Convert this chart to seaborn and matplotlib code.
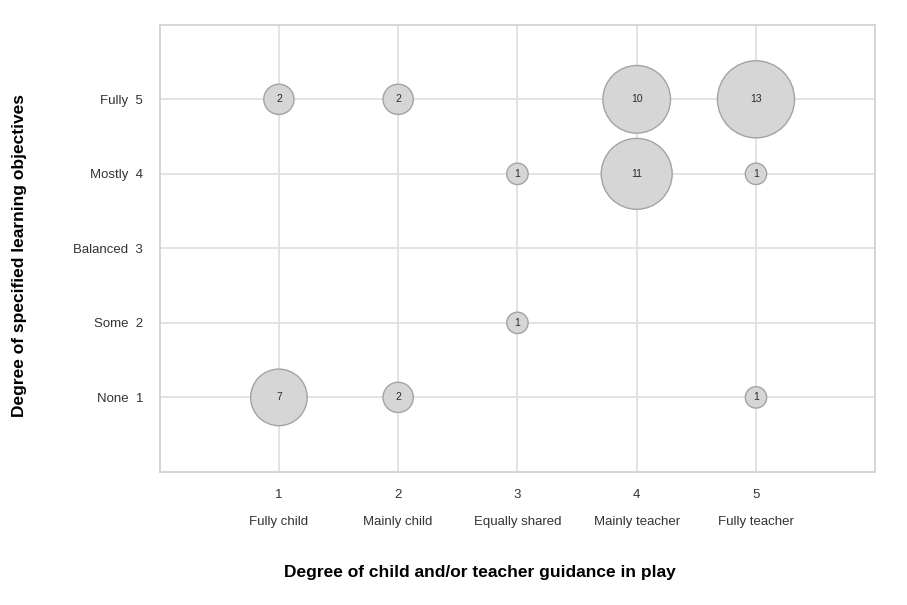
import matplotlib
matplotlib.use("Agg")
import matplotlib.pyplot as plt
import seaborn as sns
import pandas as pd

x_ticks = [1, 2, 3, 4, 5]
x_names = ["Fully child", "Mainly child", "Equally shared", "Mainly teacher", "Fully teacher"]
y_ticks = [1, 2, 3, 4, 5]
y_names = ["None", "Some", "Balanced", "Mostly", "Fully"]

guidance = [1, 2, 4, 5, 3, 4, 5, 3, 1, 2, 5]
objectives = [5, 5, 5, 5, 4, 4, 4, 2, 1, 1, 1]
counts = [2, 2, 10, 13, 1, 11, 1, 1, 7, 2, 1]

df = pd.DataFrame({"guidance": guidance, "objectives": objectives, "count": counts})

sns.set_theme(style="whitegrid")
plt.rcParams["font.family"] = ["Liberation Sans", "DejaVu Sans"]

fig = plt.figure(figsize=(9.07, 6.05), dpi=100)
ax = fig.add_axes([0.176, 0.220, 0.789, 0.739])

unit = 237.0
sns.scatterplot(data=df, x="guidance", y="objectives", size="count",
                sizes=(unit * 1, unit * 13), size_norm=(1, 13),
                color="#d6d6d6", edgecolor="#a3a3a3", linewidth=1.0,
                alpha=1, legend=False, ax=ax, zorder=3)

for gx, oy, c in zip(guidance, objectives, counts):
    ax.text(gx, oy, str(c), ha="center", va="center", fontsize=7.5,
            color="#2a2a2a", zorder=4)

ax.set_xlim(0, 6)
ax.set_ylim(0, 6)
ax.set_xticks(x_ticks)
ax.set_xticklabels([str(t) for t in x_ticks], fontsize=9.5, color="#333333")
ax.set_yticks(y_ticks)
ax.set_yticklabels([f"{n}  {t}" for n, t in zip(y_names, y_ticks)],
                   fontsize=9.5, color="#333333")
ax.tick_params(axis="x", pad=12, length=0)
ax.tick_params(axis="y", pad=12, length=0)

for t, name in zip(x_ticks, x_names):
    ax.annotate(name, xy=(t, 0), xycoords=("data", "axes fraction"),
                xytext=(0, -36), textcoords="offset points",
                ha="center", va="center", fontsize=9.5, color="#333333")

ax.grid(True, color="#e0e0e0", linewidth=1.3)
for s in ax.spines.values():
    s.set_color("#d0d0d0")
    s.set_linewidth(1.2)

ax.set_xlabel("Degree of child and/or teacher guidance in play",
              fontsize=12.5, fontweight="bold", color="black")
ax.xaxis.set_label_coords(0.448, -0.208)
ax.set_ylabel("Degree of specified learning objectives",
              fontsize=12.5, fontweight="bold", color="black")
ax.yaxis.set_label_coords(-0.186, 0.483)

fig.savefig("out.png", dpi=100, facecolor="white")
